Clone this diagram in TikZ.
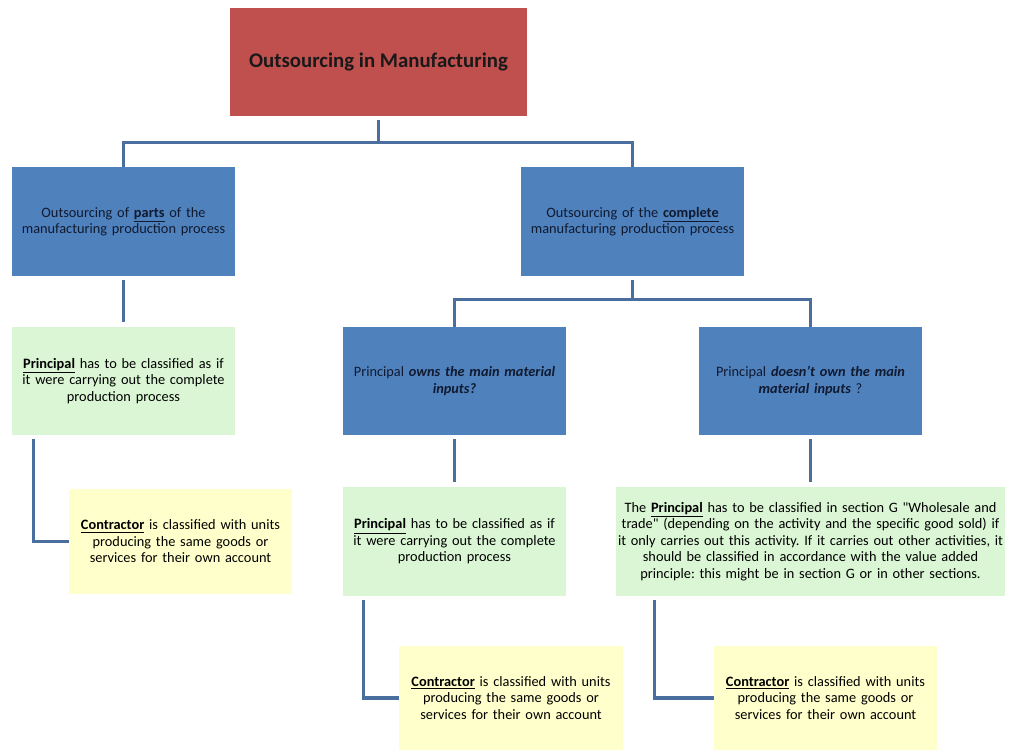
\documentclass[tikz,border=0pt]{standalone}
\usepackage{fontspec}
\setmainfont{Carlito}
\newfontfamily\rawfont{Carlito}
\usetikzlibrary{positioning,calc}
\usepackage{xcolor}
\definecolor{titlered}{HTML}{C0504D}
\definecolor{stepblue}{HTML}{4F81BD}
\definecolor{linkblue}{HTML}{4A6E9E}
\definecolor{notegreen}{HTML}{DAF6D4}
\definecolor{noteyellow}{HTML}{FFFFCC}
\definecolor{inktext}{HTML}{101A30}
\newcommand{\keyword}[1]{\underline{\textbf{#1}}}
\newcommand{\plainquote}{{\rawfont"}}
\frenchspacing
\tikzset{
  basebox/.style={inner sep=1pt,align=center,text width=5.5cm,
        minimum width=5.575cm,minimum height=2.7cm,
        font=\fontsize{10.2}{11.7}\selectfont},
  questionbox/.style={basebox,fill=stepblue,text=inktext},
  rulebox/.style={basebox,fill=notegreen,text=black},
  contractorbox/.style={basebox,fill=noteyellow,text=black,minimum height=2.6cm},
  link/.style={draw=linkblue,line width=2.2pt},
  linkgap/.style={link,shorten <=0.1cm},
}

\begin{document}
\begin{tikzpicture}[x=0.025cm,y=-0.025cm]
  \useasboundingbox (0,0) rectangle (1016,751);
  % title
  \node[fill=titlered,minimum width=7.425cm,minimum height=2.7cm,inner sep=0pt,
        text=black!90,font=\fontsize{14.8}{17}\selectfont\bfseries]
        (title) at (378.5,62) {Outsourcing in Manufacturing};
  % first level
  \node[questionbox] (parts) at (123.5,221.5)
        {Outsourcing of \keyword{parts} of the\\ manufacturing production process};
  \node[questionbox] (complete) at (632.5,221.5)
        {Outsourcing of the \keyword{complete}\\ manufacturing production process};
  % parts branch
  \node[rulebox] (partsprincipal) at (123.5,381)
        {\keyword{Principal} has to be classified as if\\ it were carrying out the complete\\ production process};
  \node[contractorbox] (partscontractor) at (180.5,541.5)
        {\keyword{Contractor} is classified with units\\ producing the same goods or\\ services for their own account};
  % complete branch
  \node[questionbox] (owns) at (454.5,381)
        {Principal \textbf{\textit{owns the main material}}\\ \textbf{\textit{inputs?}}};
  \node[questionbox] (notowns) at (810.5,381)
        {Principal \textbf{\textit{doesn’t own the main}}\\ \textbf{\textit{material inputs}} ?};
  \node[rulebox] (ownsprincipal) at (454.5,541.5)
        {\keyword{Principal} has to be classified as if\\ it were carrying out the complete\\ production process};
  \node[rulebox,text width=9.65cm,minimum width=9.7cm] (notownsprincipal) at (810.5,541.5)
        {The \keyword{Principal} has to be classified in section G \plainquote Wholesale and\\
         trade\plainquote\ (depending on the activity and the specific good sold) if\\
         it only carries out this activity. If it carries out other activities, it\\
         should be classified in accordance with the value added\\
         principle: this might be in section G or in other sections.};
  \node[contractorbox] (ownscontractor) at (511,698)
        {\keyword{Contractor} is classified with units\\ producing the same goods or\\ services for their own account};
  \node[contractorbox] (notownscontractor) at (825.5,698)
        {\keyword{Contractor} is classified with units\\ producing the same goods or\\ services for their own account};
  % connectors
  \coordinate (hubtop) at ($(title.south)+(0,26)$);
  \draw[linkgap] (title.south) -- (hubtop);
  \draw[link] (hubtop) -| (parts.north);
  \draw[link] (hubtop) -| (complete.north);
  \coordinate (hubcomplete) at ($(complete.south)+(0,24)$);
  \draw[linkgap] (complete.south) -- (hubcomplete);
  \draw[link] (hubcomplete) -| (owns.north);
  \draw[link] (hubcomplete) -| (notowns.north);
  \draw[linkgap,shorten >=0.12cm] (parts.south) -- (partsprincipal.north);
  \draw[linkgap,shorten >=0.12cm] (owns.south) -- (ownsprincipal.north);
  \draw[linkgap,shorten >=0.12cm] (notowns.south) -- (notownsprincipal.north);
  \draw[linkgap] ([xshift=0.55cm]partsprincipal.south west) |- (partscontractor.west);
  \draw[linkgap] ([xshift=0.525cm]ownsprincipal.south west) |- (ownscontractor.west);
  \draw[linkgap] ([xshift=0.975cm]notownsprincipal.south west) |- (notownscontractor.west);
\end{tikzpicture}
\end{document}
